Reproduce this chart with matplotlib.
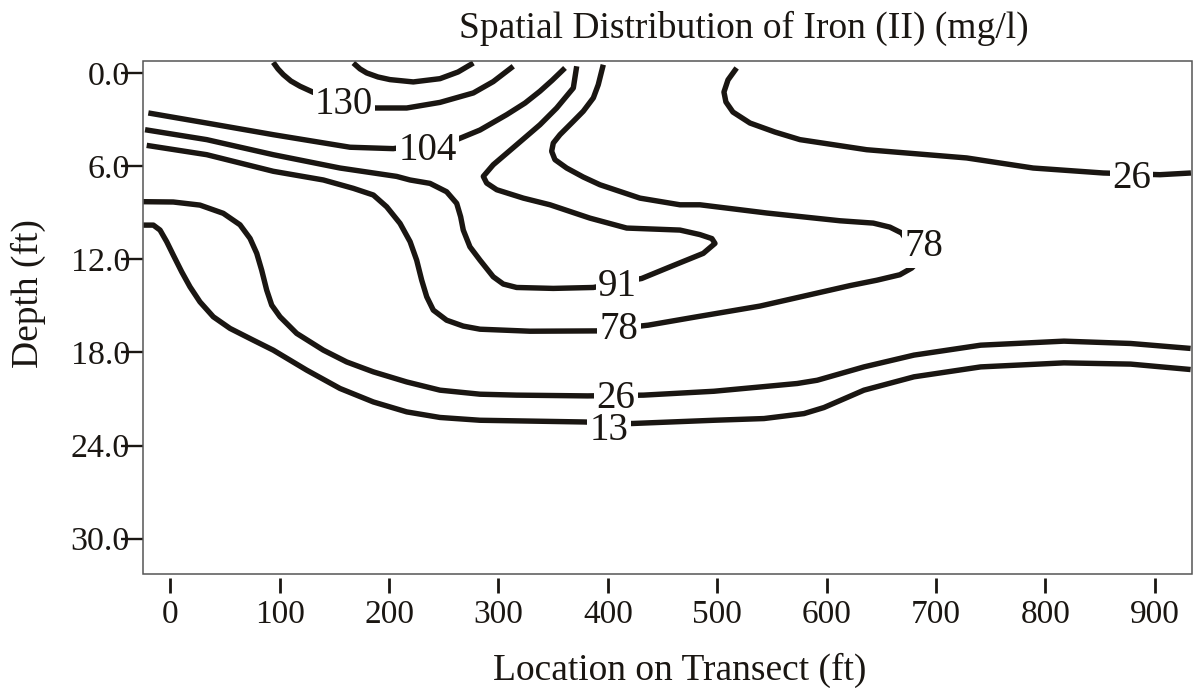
import matplotlib
matplotlib.use("Agg")
import matplotlib.pyplot as plt
from matplotlib.patches import Rectangle

plt.rcParams["font.family"] = ["Liberation Serif", "DejaVu Serif"]

INK = "#1a1612"

# Iso-concentration traces of Iron (II): location on transect (ft), depth (ft)
iso_13_x = [-24.7, -15.5, -9.4, -3.3, 2.7, 10.4, 18.0, 27.1, 39.3, 54.6, 75.9, 94.1, 124.7,
            155.1, 185.6, 216.1, 246.5, 283.1, 377.8, 422.0, 497.0, 542.7, 579.3, 597.5,
            634.1, 679.8, 740.8, 816.9, 877.9, 932.7]
iso_13_depth = [9.79, 9.79, 10.11, 10.86, 11.72, 12.80, 13.77, 14.74, 15.70, 16.45, 17.21, 17.85,
                19.14, 20.32, 21.19, 21.83, 22.19, 22.37, 22.48, 22.58, 22.37, 22.26, 21.94,
                21.55, 20.43, 19.57, 18.93, 18.67, 18.75, 19.10]

iso_26_low_x = [-24.7, 2.7, 27.1, 48.4, 63.7, 72.9, 79.0, 83.5, 88.1, 92.7, 100.3, 115.5, 139.9,
                161.2, 185.6, 216.1, 246.5, 283.1, 316.5, 381.4, 432.6, 497.0, 573.1, 591.4,
                634.1, 679.8, 740.8, 816.9, 877.9, 932.7]
iso_26_low_depth = [8.28, 8.30, 8.50, 9.03, 9.77, 10.65, 11.61, 12.69, 13.98, 14.95, 15.70, 16.77,
                    17.85, 18.61, 19.25, 19.90, 20.43, 20.69, 20.75, 20.80, 20.75, 20.50, 20.00,
                    19.79, 18.93, 18.17, 17.53, 17.27, 17.42, 17.74]

iso_26_up_x = [517.7, 509.8, 506.1, 507.9, 514.3, 529.9, 552.7, 575.6, 636.6, 728.0, 788.8,
               852.8, 904.7, 933.0]
iso_26_up_depth = [-0.34, 0.43, 1.21, 1.85, 2.50, 3.21, 3.79, 4.28, 4.93, 5.46, 6.11,
                   6.43, 6.54, 6.43]

iso_78_x = [-21.6, 33.3, 94.1, 139.9, 167.3, 185.6, 197.8, 210.0, 219.2, 225.2, 229.8, 234.4,
            240.4, 252.6, 267.8, 283.1, 328.8, 389.8, 436.9, 481.2, 539.0, 621.3, 646.0, 666.9,
            677.7, 685.0, 668.6, 657.8, 642.6, 612.2, 545.2, 484.2, 465.9, 429.3, 392.8, 377.5,
            362.3, 351.6, 348.6, 350.1, 356.2, 368.4, 377.5, 386.7, 391.2, 395.8]
iso_78_depth = [4.65, 5.25, 6.32, 6.88, 7.42, 7.85, 8.61, 9.68, 10.86, 12.05, 13.34, 14.41,
                15.27, 15.92, 16.30, 16.50, 16.63, 16.61, 16.24, 15.70, 15.01, 13.69, 13.34, 12.99,
                12.56, 12.03, 10.30, 9.92, 9.66, 9.51, 9.01, 8.48, 8.48, 8.05, 7.19, 6.69,
                6.11, 5.57, 5.03, 4.50, 3.96, 3.10, 2.45, 1.59, 0.74, -0.55]

iso_91_x = [-23.1, 33.3, 94.1, 155.1, 206.9, 219.1, 237.4, 252.6, 261.8, 265.4, 267.8, 273.9,
            283.1, 295.2, 304.4, 316.6, 350.1, 386.7, 430.9, 456.8, 487.2, 497.9, 495.1, 484.1,
            465.9, 417.2, 383.6, 347.1, 322.7, 298.4, 289.2, 286.1, 295.2, 316.6, 337.9,
            353.2, 368.4, 371.5]
iso_91_depth = [3.64, 4.28, 5.25, 6.11, 6.65, 6.88, 7.10, 7.64, 8.39, 9.25, 10.11, 11.19,
                12.05, 13.12, 13.59, 13.81, 13.87, 13.81, 13.23, 12.48, 11.61, 10.97, 10.66, 10.40,
                10.11, 9.98, 9.34, 8.48, 8.05, 7.51, 7.08, 6.65, 5.90, 4.61, 3.32,
                2.24, 0.95, -0.45]

iso_104_x = [-20.1, 33.3, 94.1, 164.3, 203.8, 261.8, 283.1, 307.5, 324.3, 337.9, 349.0, 360.8]
iso_104_depth = [2.56, 3.21, 3.96, 4.77, 4.86, 4.28, 3.66, 2.67, 1.92, 1.16, 0.46, -0.34]

iso_130_x = [94.1, 98.4, 103.3, 110.2, 118.6, 130.7, 187.1, 216.1, 246.5, 277.0, 295.2, 313.5]
iso_130_depth = [-0.70, -0.28, 0.09, 0.50, 0.84, 1.23, 2.24, 2.24, 1.88, 1.27, 0.54, -0.45]

iso_143_x = [167.3, 173.4, 179.5, 189.8, 200.8, 222.1, 246.5, 263.0, 277.0]
iso_143_depth = [-0.66, -0.28, -0.02, 0.24, 0.41, 0.56, 0.35, -0.08, -0.66]

# In-line contour labels
label_values = [130, 104, 91, 78, 78, 26, 26, 13]
label_x = [158.8, 235.1, 408.8, 410.1, 688.9, 878.6, 407.4, 401.0]
label_depth = [1.75, 4.66, 13.44, 16.24, 10.90, 6.48, 20.69, 22.73]

x_ticks = [0, 100, 200, 300, 400, 500, 600, 700, 800, 900]
depth_ticks = [0.0, 6.0, 12.0, 18.0, 24.0, 30.0]

W, H = 1194, 688
fig = plt.figure(figsize=(W / 100, H / 100), dpi=100)
fig.patch.set_facecolor("white")
ax = fig.add_axes([143.3 / W, 1 - 574.3 / H, (1191.7 - 143.3) / W, (574.3 - 61.3) / H])
ax.set_xlim(-24.7, 933.7)
ax.set_ylim(32.3, -0.77)

traces = [
    (iso_13_x, iso_13_depth),
    (iso_26_low_x, iso_26_low_depth),
    (iso_26_up_x, iso_26_up_depth),
    (iso_78_x, iso_78_depth),
    (iso_91_x, iso_91_depth),
    (iso_104_x, iso_104_depth),
    (iso_130_x, iso_130_depth),
    (iso_143_x, iso_143_depth),
]
for xs, ds in traces:
    ax.plot(xs, ds, color=INK, lw=3.9, solid_joinstyle="round",
            solid_capstyle="butt", zorder=2)

for v, lx, ld in zip(label_values, label_x, label_depth):
    ax.text(lx, ld, str(v), fontsize=28, color=INK, ha="center",
            va="center_baseline", zorder=3,
            bbox=dict(boxstyle="square,pad=0.06", fc="white", ec="none"))

# frame
for s in ax.spines.values():
    s.set_visible(False)
ax.spines["bottom"].set_position(("outward", 2.5))
ax.add_patch(Rectangle((0, 0), 1, 1, transform=ax.transAxes, fill=False,
                       ec="#555555", lw=1.1, clip_on=False, zorder=4))

ax.set_xticks(x_ticks)
ax.set_xticklabels([str(t) for t in x_ticks])
ax.set_yticks(depth_ticks)
ax.set_yticklabels([f"{t:.1f}" for t in depth_ticks])
ax.tick_params(axis="x", direction="out", length=10.5, width=2.0, color=INK,
               labelsize=24, labelcolor=INK, pad=5)
ax.tick_params(axis="y", direction="out", length=16, width=1.7, color=INK,
               labelsize=24.5, labelcolor=INK, pad=-6.4)

fig.text(743.5 / W, 1 - 38.3 / H, "Spatial Distribution of Iron (II) (mg/l)",
         ha="center", va="baseline", fontsize=27, color=INK)
fig.text(680 / W, 1 - 680 / H, "Location on Transect (ft)",
         ha="center", va="baseline", fontsize=27, color=INK)
fig.text(38.3 / W, 1 - 294 / H, "Depth (ft)", rotation=90, rotation_mode="anchor",
         ha="center", va="baseline", fontsize=27, color=INK)

fig.savefig("out.png", dpi=100, facecolor="white")
